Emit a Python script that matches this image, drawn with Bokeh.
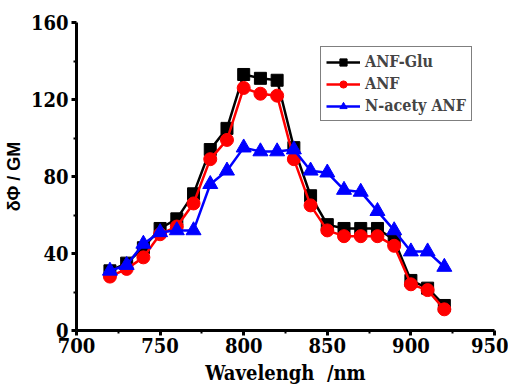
from bokeh.plotting import figure
from bokeh.models import FixedTicker, Legend, LegendItem, Range1d
from bokeh.embed import file_html
from bokeh.resources import INLINE

wavelength = [720, 730, 740, 750, 760, 770, 780, 790, 800, 810, 820,
              830, 840, 850, 860, 870, 880, 890, 900, 910, 920]
anf_glu = [31, 35, 43, 53, 58, 71, 94, 105, 133, 131, 130,
           95, 70, 55, 53, 53, 53, 47, 26, 22, 13]
anf = [28, 32, 38, 50, 54, 66, 89, 99, 126, 123, 122,
       89, 65, 52, 49, 49, 49, 44, 24, 21, 11]
n_acety_anf = [31, 34, 45, 51, 52, 52, 76, 83, 95, 93, 93,
               94, 83, 82, 73, 72, 62, 52, 41, 41, 33]

x_ticks = [700, 750, 800, 850, 900, 950]
x_minor = [725, 775, 825, 875, 925]
y_ticks = [0, 40, 80, 120, 160]
y_minor = [20, 60, 100, 140]

p = figure(frame_width=418, frame_height=308, output_backend="svg", toolbar_location=None,
           x_range=Range1d(700, 950), y_range=Range1d(0, 160),
           min_border_left=72, min_border_right=14, min_border_top=22,
           min_border_bottom=40)
p.outline_line_color = None
p.xgrid.visible = False
p.ygrid.visible = False
p.background_fill_color = "white"

serif = "DejaVu Serif Condensed"
for ax in (p.xaxis[0], p.yaxis[0]):
    ax.axis_line_width = 3
    ax.major_tick_line_width = 3
    ax.minor_tick_line_width = 2
    ax.major_tick_out = 5
    ax.major_tick_in = 0
    ax.minor_tick_out = 3
    ax.minor_tick_in = 0
    ax.major_label_text_font = serif
    ax.major_label_text_font_style = "bold"
    ax.major_label_text_font_size = "20px"
    ax.major_label_text_color = "black"
    ax.axis_label_text_color = "black"

p.xaxis.ticker = FixedTicker(ticks=x_ticks, minor_ticks=x_minor)
p.yaxis.ticker = FixedTicker(ticks=y_ticks, minor_ticks=y_minor)
p.xaxis.major_label_standoff = 2
p.yaxis.major_label_standoff = 3

p.xaxis.axis_label = "Wavelengh\u00a0\u00a0/nm"
p.xaxis.axis_label_text_font = serif
p.xaxis.axis_label_text_font_style = "bold"
p.xaxis.axis_label_text_font_size = "20px"
p.xaxis.axis_label_standoff = 5

p.yaxis.axis_label = "δΦ / GM"
p.yaxis.axis_label_text_font = "Liberation Sans"
p.yaxis.axis_label_text_font_style = "bold"
p.yaxis.axis_label_text_font_size = "18px"
p.yaxis.axis_label_standoff = 4

l1 = p.line(wavelength, anf_glu, line_color="black", line_width=2.5)
s1 = p.scatter(wavelength, anf_glu, marker="square", size=12, fill_color="black", line_color="black")
l2 = p.line(wavelength, anf, line_color="red", line_width=2.5)
s2 = p.scatter(wavelength, anf, marker="circle", size=13, fill_color="red", line_color="red")
l3 = p.line(wavelength, n_acety_anf, line_color="blue", line_width=2.5)
s3 = p.scatter(wavelength, n_acety_anf, marker="triangle", size=15, fill_color="blue", line_color="blue")

legend = Legend(items=[
    LegendItem(label="ANF-Glu", renderers=[l1, s1]),
    LegendItem(label="ANF", renderers=[l2, s2]),
    LegendItem(label="N-acety ANF", renderers=[l3, s3]),
], location=(244, 209))
legend.label_text_font = serif
legend.label_text_font_style = "bold"
legend.label_text_font_size = "16px"
legend.glyph_width = 34
legend.glyph_height = 18
legend.label_standoff = 5
legend.spacing = 3
legend.padding = 5
legend.margin = 0
legend.border_line_color = "black"
legend.border_line_width = 1.5
legend.label_height = 18
p.add_layout(legend)

open("out.html", "w").write(file_html(p, INLINE))
